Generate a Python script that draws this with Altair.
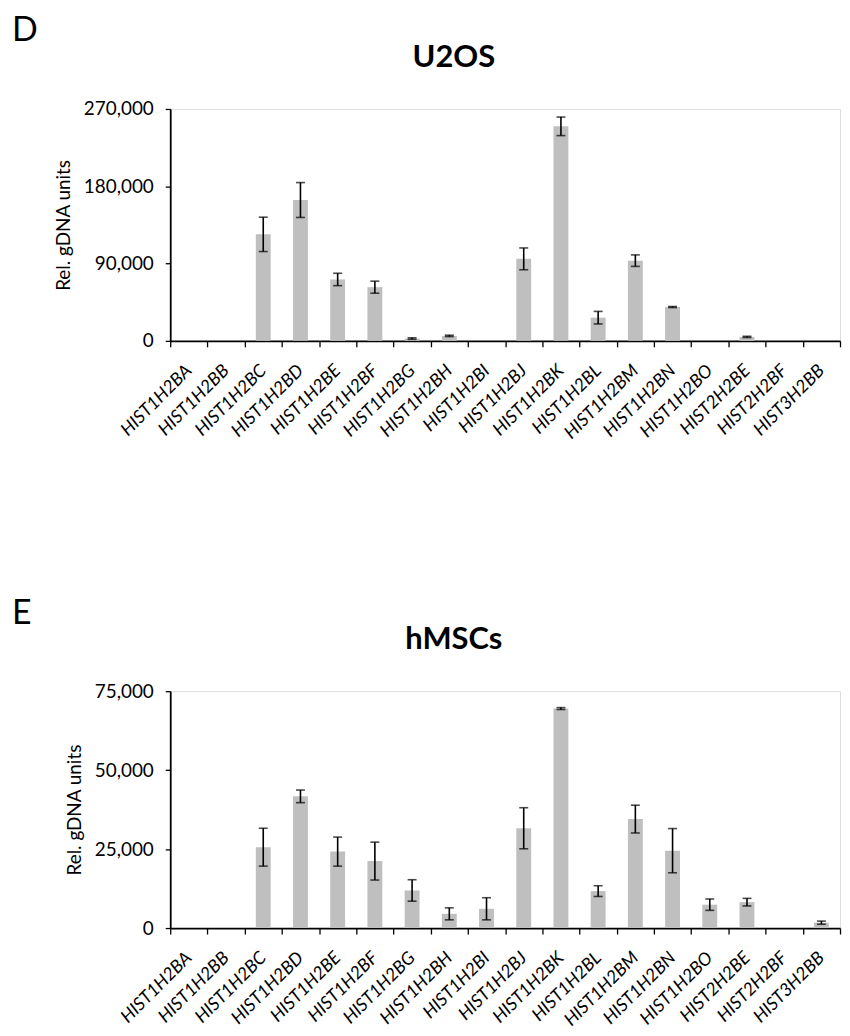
import altair as alt
import pandas as pd

genes = ["HIST1H2BA", "HIST1H2BB", "HIST1H2BC", "HIST1H2BD", "HIST1H2BE", "HIST1H2BF",
         "HIST1H2BG", "HIST1H2BH", "HIST1H2BI", "HIST1H2BJ", "HIST1H2BK", "HIST1H2BL",
         "HIST1H2BM", "HIST1H2BN", "HIST1H2BO", "HIST2H2BE", "HIST2H2BF", "HIST3H2BB"]

u2os_mean = [0, 0, 124000, 164000, 71500, 62500, 2700, 5800, 0, 95500, 249800, 27000,
             93400, 39400, 0, 4600, 0, 0]
u2os_err = [0, 0, 20000, 20300, 7200, 7000, 900, 800, 0, 12700, 10800, 7300,
            6700, 600, 0, 700, 0, 0]

hmsc_mean = [0, 0, 25600, 41700, 24200, 21200, 11900, 4500, 6100, 31600, 69500, 11700,
             34500, 24500, 7400, 8200, 0, 1700]
hmsc_err = [0, 0, 6000, 2000, 4600, 6000, 3400, 1900, 3500, 6500, 300, 1700,
            4400, 7000, 1800, 1200, 0, 500]

FONT = "Lato, Open Sans, sans-serif"


def panel(mean, err, ymax, yvals, title, letter, height):
    df = pd.DataFrame({"gene": genes, "mean": mean, "err": err})
    df["lo"] = df["mean"] - df["err"]
    df["hi"] = df["mean"] + df["err"]
    eb = df[df["mean"] > 0]

    x_axis = alt.Axis(labelAngle=-45, tickBand="extent", labelFontSize=18,
                      labelFontStyle="italic", labelFont=FONT, labelColor="black",
                      labelPadding=21, labelAlign="right", labelBaseline="middle",
                      domainColor="black", domainWidth=1.8, tickColor="black",
                      tickWidth=1.3, tickSize=6, grid=False, labelOverlap=False, title=None)
    x_scale = alt.Scale(paddingInner=0, paddingOuter=0)
    x = alt.X("gene:N", sort=genes, scale=x_scale, axis=x_axis)
    y_scale = alt.Scale(domain=[0, ymax], nice=False)
    y_axis = alt.Axis(values=yvals, format=",.0f", title="Rel. gDNA units", labelFontSize=19,
                      labelFont=FONT, titleFont=FONT, titleFontSize=19,
                      titleFontWeight="normal", labelColor="black", titleColor="black",
                      domainColor="black", domainWidth=1.8, tickColor="black",
                      tickWidth=1.3, tickSize=5, grid=False, titlePadding=10, labelPadding=12)

    def Y(f):
        return alt.Y(f, scale=y_scale, axis=y_axis)

    bars = alt.Chart(df).mark_bar(color="#BFBFBF", width=alt.RelativeBandSize(0.4)).encode(
        x=x, y=Y("mean:Q"))
    rule = alt.Chart(eb).mark_rule(color="black", strokeWidth=1.6).encode(
        x=x, y=Y("lo:Q"), y2="hi:Q")
    cap_hi = alt.Chart(eb).mark_tick(color="black", size=9, thickness=1.6).encode(
        x=x, y=Y("hi:Q"))
    cap_lo = alt.Chart(eb).mark_tick(color="black", size=9, thickness=1.6).encode(
        x=x, y=Y("lo:Q"))
    lab = alt.Chart(pd.DataFrame({"t": [letter]})).mark_text(
        fontSize=34, font=FONT, align="left", baseline="middle", color="black").encode(
        text="t:N", x=alt.value(-159), y=alt.value(-78))
    ttl = alt.Chart(pd.DataFrame({"t": [title]})).mark_text(
        fontSize=31, font=FONT, fontWeight="bold", align="center", baseline="middle",
        color="black").encode(text="t:N", x=alt.value(285), y=alt.value(-51))

    return alt.layer(bars, rule, cap_hi, cap_lo, lab, ttl).properties(width=673, height=height)


top = panel(u2os_mean, u2os_err, 270000, [0, 90000, 180000, 270000], "U2OS", "D", 233)
bottom = panel(hmsc_mean, hmsc_err, 75000, [0, 25000, 50000, 75000], "hMSCs", "E", 238)

chart = alt.vconcat(top, bottom, spacing=153).resolve_scale(
    x="independent", y="independent").properties(
    padding={"top": 3, "left": 3, "right": 0, "bottom": 0}).configure_view(
    strokeOpacity=0, strokeWidth=0).configure(background="white")

chart.save("out.html", embed_options={"renderer": "svg", "actions": False})
